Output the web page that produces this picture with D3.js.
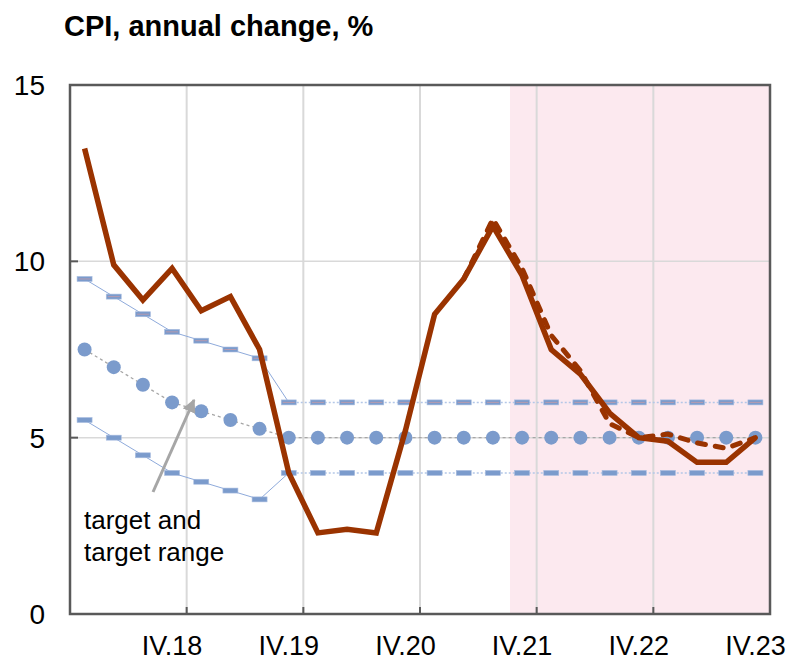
<!DOCTYPE html>
<html>
<head>
<meta charset="utf-8">
<script src="https://cdn.jsdelivr.net/npm/d3@7"></script>
<style>
  body { margin: 0; background: #fff; }
  svg { display: block; font-family: "Liberation Sans", Arial, sans-serif; }
</style>
</head>
<body>
<div id="chart"></div>
<script>
// quarters I.18 .. IV.23
var quarters = [
  "I.18","II.18","III.18","IV.18",
  "I.19","II.19","III.19","IV.19",
  "I.20","II.20","III.20","IV.20",
  "I.21","II.21","III.21","IV.21",
  "I.22","II.22","III.22","IV.22",
  "I.23","II.23","III.23","IV.23"
];
var tickLabels = ["IV.18","IV.19","IV.20","IV.21","IV.22","IV.23"];
var yTicks = [0, 5, 10, 15];

// CPI, actual + forecast
var cpi = [13.2, 9.9, 8.9, 9.8, 8.6, 9.0, 7.5, 4.0, 2.3, 2.4, 2.3, 5.2,
           8.5, 9.5, 11.0, 9.6, 7.5, 6.8, 5.7, 5.0, 4.9, 4.3, 4.3, 5.0];
// alternative forecast (dashed)
var cpiAlt = [null, null, null, null, null, null, null, null, null, null, null, null,
              null, 9.5, 11.2, 9.8, 7.9, 6.9, 5.4, 5.0, 5.1, 4.85, 4.7, 5.0];
// target and target range
var target = [7.5, 7.0, 6.5, 6.0, 5.75, 5.5, 5.25, 5.0, 5.0, 5.0, 5.0, 5.0,
              5.0, 5.0, 5.0, 5.0, 5.0, 5.0, 5.0, 5.0, 5.0, 5.0, 5.0, 5.0];
var upper = [9.5, 9.0, 8.5, 8.0, 7.75, 7.5, 7.25, 6.0, 6.0, 6.0, 6.0, 6.0,
             6.0, 6.0, 6.0, 6.0, 6.0, 6.0, 6.0, 6.0, 6.0, 6.0, 6.0, 6.0];
var lower = [5.5, 5.0, 4.5, 4.0, 3.75, 3.5, 3.25, 4.0, 4.0, 4.0, 4.0, 4.0,
             4.0, 4.0, 4.0, 4.0, 4.0, 4.0, 4.0, 4.0, 4.0, 4.0, 4.0, 4.0];
var forecastStart = "IV.21";

var W = 792, H = 661;
var pLeft = 70, pRight = 770, pTop = 85, pBottom = 614;

var svg = d3.select("#chart").append("svg")
  .attr("width", W)
  .attr("height", H);

var x = d3.scaleBand().domain(quarters).range([pLeft, pRight]).padding(0);
var y = d3.scaleLinear().domain([0, 15]).range([pBottom, pTop]);
var cx = function(i) { return x(quarters[i]) + x.bandwidth() / 2; };

// title
svg.append("text")
  .attr("x", 64).attr("y", 36)
  .attr("font-size", 29).attr("font-weight", "bold")
  .attr("fill", "#000")
  .text("CPI, annual change, %");

// forecast shading
svg.append("rect")
  .attr("x", x(forecastStart) + 2.5)
  .attr("y", pTop)
  .attr("width", pRight - x(forecastStart) - 2.5)
  .attr("height", pBottom - pTop)
  .attr("fill", "#fce9ef");

// horizontal grid
svg.selectAll(".hgrid").data([5, 10]).enter().append("line")
  .attr("x1", pLeft).attr("x2", pRight)
  .attr("y1", function(d) { return y(d); })
  .attr("y2", function(d) { return y(d); })
  .attr("stroke", "#d9d9d9").attr("stroke-width", 1.5);

// vertical grid at year boundaries
var yearEnds = tickLabels.slice(0, tickLabels.length - 1);
svg.selectAll(".vgrid").data(yearEnds).enter().append("line")
  .attr("x1", function(d) { return x(d) + x.bandwidth(); })
  .attr("x2", function(d) { return x(d) + x.bandwidth(); })
  .attr("y1", pTop).attr("y2", pBottom)
  .attr("stroke", "#d9d9d9").attr("stroke-width", 2);

// target range lines
var idx = d3.range(quarters.length);
var line = function(arr) {
  return d3.line()
    .defined(function(i) { return arr[i] != null; })
    .x(function(i) { return cx(i); })
    .y(function(i) { return y(arr[i]); });
};
var slopeIdx = idx.slice(0, 8), flatIdx = idx.slice(7);

[upper, lower].forEach(function(arr) {
  svg.append("path").datum(slopeIdx)
    .attr("d", line(arr))
    .attr("fill", "none").attr("stroke", "#8eaadb").attr("stroke-width", 1);
  svg.append("path").datum(flatIdx)
    .attr("d", line(arr))
    .attr("fill", "none").attr("stroke", "#b4c7e7").attr("stroke-width", 1.5)
    .attr("stroke-dasharray", "2,2");
});

// range markers (short bars)
[upper, lower].forEach(function(arr, k) {
  svg.selectAll(".rm" + k).data(idx).enter().append("rect")
    .attr("x", function(i) { return cx(i) - 7.5; })
    .attr("y", function(i) { return y(arr[i]) - 2.5; })
    .attr("width", 15).attr("height", 5)
    .attr("fill", "#7b9bcc")
    .attr("stroke", "#a9bde0").attr("stroke-width", 0.6);
  if (k === 0) {
    svg.selectAll(".rmc").data(idx).enter().append("line")
      .attr("x1", function(i) { return cx(i) - 6; })
      .attr("x2", function(i) { return cx(i) + 6; })
      .attr("y1", function(i) { return y(arr[i]); })
      .attr("y2", function(i) { return y(arr[i]); })
      .attr("stroke", "#c49aa8").attr("stroke-width", 0.8);
  }
});

// target dotted line + dots
svg.append("path").datum(idx)
  .attr("d", line(target))
  .attr("fill", "none").attr("stroke", "#a6a6a6").attr("stroke-width", 1.3)
  .attr("stroke-dasharray", "3,3");
svg.selectAll(".dot").data(idx).enter().append("circle")
  .attr("cx", function(i) { return cx(i); })
  .attr("cy", function(i) { return y(target[i]); })
  .attr("r", 7)
  .attr("fill", "#7b9bcc");

// CPI alternative (dashed)
svg.append("path").datum(idx)
  .attr("d", line(cpiAlt))
  .attr("fill", "none").attr("stroke", "#9a3300").attr("stroke-width", 5)
  .attr("stroke-linecap", "round")
  .attr("stroke-dasharray", "8,10");

// CPI solid
svg.append("path").datum(idx)
  .attr("d", line(cpi))
  .attr("fill", "none").attr("stroke", "#9a3300").attr("stroke-width", 5.5)
  .attr("stroke-linejoin", "miter");

// plot border
svg.append("rect")
  .attr("x", pLeft).attr("y", pTop)
  .attr("width", pRight - pLeft).attr("height", pBottom - pTop)
  .attr("fill", "none").attr("stroke", "#595959").attr("stroke-width", 2.5);

// y ticks (inward) and labels
svg.selectAll(".ytick").data([5, 10]).enter().append("line")
  .attr("x1", pLeft).attr("x2", pLeft + 8)
  .attr("y1", function(d) { return y(d); })
  .attr("y2", function(d) { return y(d); })
  .attr("stroke", "#595959").attr("stroke-width", 2);
svg.selectAll(".ylab").data(yTicks).enter().append("text")
  .attr("x", 45)
  .attr("y", function(d) { return y(d) + 10; })
  .attr("text-anchor", "end")
  .attr("font-size", 28)
  .attr("fill", "#000")
  .text(function(d) { return d; });

// x ticks (inward) and labels
svg.selectAll(".xtick").data(yearEnds).enter().append("line")
  .attr("x1", function(d) { return x(d) + x.bandwidth(); })
  .attr("x2", function(d) { return x(d) + x.bandwidth(); })
  .attr("y1", pBottom).attr("y2", pBottom - 7)
  .attr("stroke", "#595959").attr("stroke-width", 2);
svg.selectAll(".xlab").data(tickLabels).enter().append("text")
  .attr("x", function(d) { return x(d) + x.bandwidth() / 2; })
  .attr("y", 655)
  .attr("text-anchor", "middle")
  .attr("font-size", 27)
  .attr("fill", "#000")
  .text(function(d) { return d; });

// annotation
var ann = svg.append("text")
  .attr("x", 84).attr("y", 529)
  .attr("font-size", 26).attr("fill", "#000");
ann.append("tspan").attr("x", 84).attr("y", 529).text("target and");
ann.append("tspan").attr("x", 84).attr("y", 561).text("target range");

svg.append("defs").append("marker")
  .attr("id", "arrow")
  .attr("viewBox", "0 0 10 10")
  .attr("refX", 9).attr("refY", 5)
  .attr("markerWidth", 4.5).attr("markerHeight", 4.5)
  .attr("markerUnits", "strokeWidth")
  .attr("orient", "auto")
  .append("path")
  .attr("d", "M0,0 L10,5 L0,10 Z")
  .attr("fill", "#a6a6a6");
svg.append("line")
  .attr("x1", 153).attr("y1", 492)
  .attr("x2", 194).attr("y2", 400)
  .attr("stroke", "#a6a6a6").attr("stroke-width", 3)
  .attr("marker-end", "url(#arrow)");
</script>
</body>
</html>
